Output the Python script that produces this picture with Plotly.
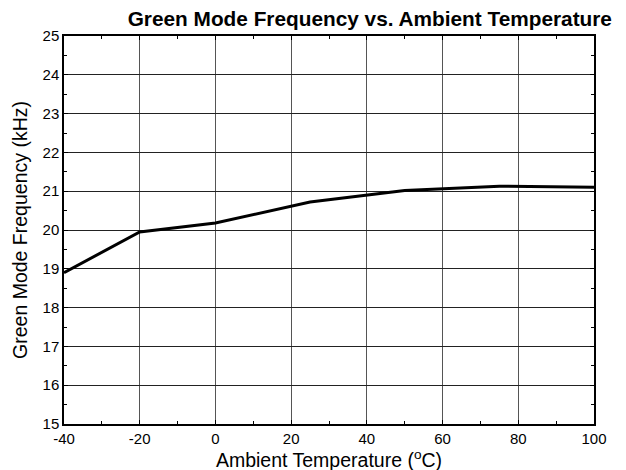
import plotly.graph_objects as go

temperature_c = [-40, -20, 0, 25, 50, 75, 100]
frequency_khz = [18.9, 19.95, 20.18, 20.72, 21.02, 21.13, 21.1]

x_ticks = [-40, -20, 0, 20, 40, 60, 80, 100]
y_ticks = [15, 16, 17, 18, 19, 20, 21, 22, 23, 24, 25]

fig = go.Figure()
fig.add_trace(go.Scatter(
    x=temperature_c, y=frequency_khz, mode="lines",
    line=dict(color="black", width=3), showlegend=False,
))

font = "Liberation Sans, Arial, sans-serif"
fig.update_layout(
    width=626, height=470,
    margin=dict(l=56, r=40, t=28, b=54),
    paper_bgcolor="white", plot_bgcolor="white",
    font=dict(family=font, color="black", size=14),
    title=dict(
        text="<b>Green Mode Frequency vs. Ambient Temperature</b>",
        font=dict(family=font, size=20.8, color="black"),
        x=0.577, xref="paper", xanchor="center",
        y=0.977, yref="container", yanchor="middle",
        automargin=False,
    ),
)
fig.update_xaxes(
    range=[-40, 100], tickvals=x_ticks, ticktext=[str(v) for v in x_ticks],
    showgrid=True, gridcolor="#555555", gridwidth=1,
    showline=True, linecolor="black", linewidth=1.5, mirror="allticks",
    ticks="inside", ticklen=4, tickcolor="black",
    minor=dict(dtick=10, ticks="inside", ticklen=3, tickcolor="black", showgrid=False),
    zeroline=False, automargin=False,
    tickfont=dict(size=15),
    title=dict(text="Ambient Temperature (<sup>o</sup>C)", font=dict(size=19.5), standoff=0),
)
fig.update_yaxes(
    range=[15, 25], tickvals=y_ticks, ticktext=[str(v) for v in y_ticks],
    showgrid=True, gridcolor="#222222", gridwidth=1,
    showline=True, linecolor="black", linewidth=1.5, mirror="allticks",
    ticks="inside", ticklen=4, tickcolor="black",
    minor=dict(dtick=0.5, ticks="inside", ticklen=3, tickcolor="black", showgrid=False),
    zeroline=False, automargin=False,
    tickfont=dict(size=15),
    ticklabelstandoff=0,
    title=dict(text="Green Mode Frequency (kHz)", font=dict(size=19.5), standoff=10),
)

fig.write_html("out.html")
